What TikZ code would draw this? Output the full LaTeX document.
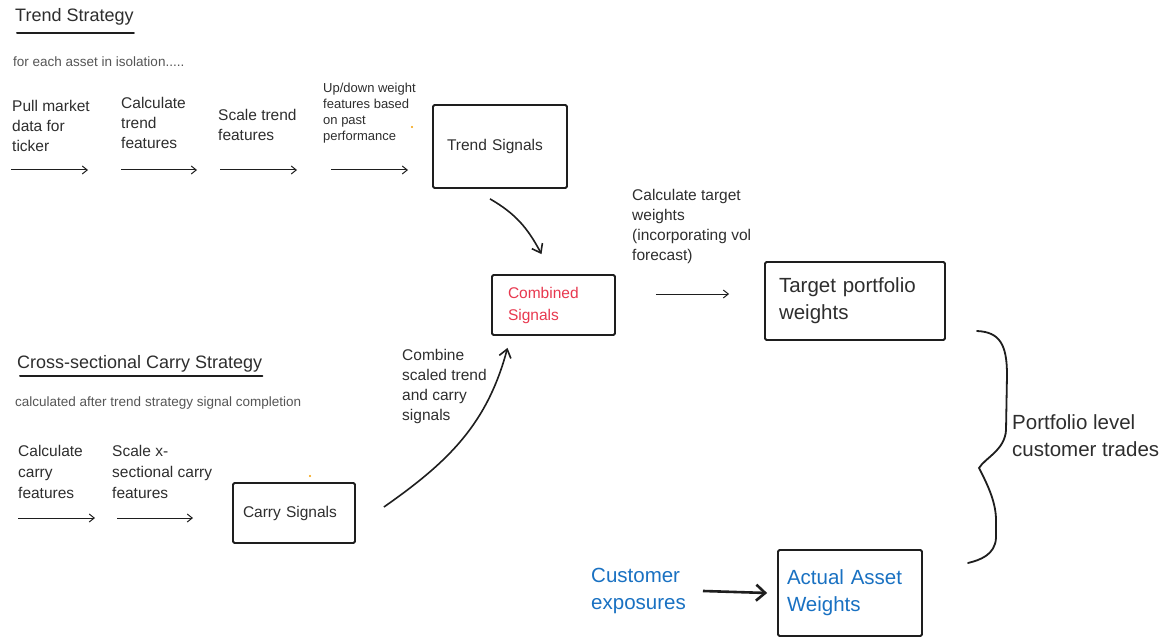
\documentclass[tikz,border=0pt]{standalone}
\usepackage{fontspec}
\setmainfont{Liberation Sans}
\usepackage{tikz}
\usepackage{xcolor}
\usetikzlibrary{arrows.meta,positioning}
\definecolor{ink}{HTML}{1E1E1E}
\definecolor{inktext}{HTML}{2E2E2E}
\definecolor{inkgray}{HTML}{555555}
\definecolor{accentred}{HTML}{E8384F}
\definecolor{accentblue}{HTML}{1971C2}
\definecolor{dotorange}{HTML}{F59F00}
\newcommand{\handmid}{\fontsize{15.5}{20}\selectfont}
\newcommand{\handsml}{\fontsize{13}{16}\selectfont}
\newcommand{\handnote}{\fontsize{13.5}{16}\selectfont}
\newcommand{\handhead}{\fontsize{18}{22}\selectfont}
\newcommand{\handbig}{\fontsize{20.5}{27}\selectfont}
\tikzset{
  hand/.style={font=\handmid,text=inktext,align=left,inner sep=0pt,
               anchor=north west},
  handsm/.style={hand,font=\handsml},
  note/.style={hand,font=\handnote,text=inkgray},
  heading/.style={hand,font=\handhead},
  sigbox/.style={draw=ink,line width=1.8pt,rounded corners=1.5pt,
                 align=left,inner ysep=4pt,text=inktext,font=\handmid},
  flowarr/.style={-{Straight Barb[length=5pt,width=8pt]},line width=1pt,
                  draw=ink},
  bendarr/.style={-{Straight Barb[length=8pt,width=12pt]},line width=1.6pt,
                  draw=ink},
  pusharr/.style={-{Straight Barb[length=9pt,width=16pt]},line width=2.6pt,
                  draw=ink},
  headline/.style={line width=2pt,draw=ink,line cap=round}
}
\begin{document}
\begin{tikzpicture}[x=1pt,y=-1pt]
    \path[use as bounding box,fill=white] (0,0) rectangle (1164,639);

    \node[heading] (trendhead) at (15,8) {Trend Strategy};
    \draw[headline] ([shift={(2pt,-8pt)}]trendhead.south west)
      -- ([shift={(0pt,-8pt)}]trendhead.south east);
    \node[note] (trendsub) at (13,57) {for each asset in isolation.....};

    \node[hand] (pull) at (12,100) {Pull market\\data for\\ticker};
    \node[hand] (calctrend) at (121,97) {Calculate\\trend\\features};
    \node[hand] (scaletrend) at (218,109) {Scale trend\\features};
    \node[handsm] (updown) at (323,83)
      {Up/down weight\\features based\\on past\\performance};
    \foreach \xa/\xb [count=\i] in {11/88,121/197,220/297,331/408}{
      \coordinate (ta\i) at (\xa,170);
      \coordinate (tb\i) at (\xb,170);
      \draw[flowarr] (ta\i) -- (tb\i);
    }
    \fill[dotorange] (412,127) circle (1.2pt);

    \node[sigbox,text width=106pt,inner xsep=14pt,minimum height=83pt]
      (trendsig) at (500,146.5) {Trend Signals};
    \node[sigbox,text width=91pt,inner xsep=16pt,minimum height=60pt,
          text=accentred,font=\fontsize{15.5}{22}\selectfont]
      (combined) at (553.5,305) {Combined\\Signals};
    \draw[bendarr] ([shift={(-10pt,-10pt)}]trendsig.south)
      to[out=-30,in=118] ([shift={(-12pt,20pt)}]combined.north);

    \node[hand] (calctarget) at (632,189)
      {Calculate target\\weights\\(incorporating vol\\forecast)};
    \node[sigbox,text width=152pt,inner xsep=14pt,minimum height=78pt,
          font=\handbig] (target) at (855,301) {Target portfolio\\weights};
    \draw[flowarr] ([shift={(40pt,11pt)}]combined.east)
      -- ([shift={(-35pt,7pt)}]target.west);

    \node[heading] (carryhead) at (17,355) {Cross-sectional Carry Strategy};
    \draw[headline] ([shift={(3pt,-4pt)}]carryhead.south west)
      -- ([shift={(0pt,-4pt)}]carryhead.south east);
    \node[note] (carrysub) at (15,397)
      {calculated after trend strategy signal completion};

    \node[hand,font=\fontsize{15.5}{21}\selectfont] (calccarry) at (18,445)
      {Calculate\\carry\\features};
    \node[hand,font=\fontsize{15.5}{21}\selectfont] (scalecarry) at (112,445)
      {Scale x-\\sectional carry\\features};
    \foreach \xa/\xb [count=\i] in {18/95,117/193}{
      \coordinate (ca\i) at (\xa,518);
      \coordinate (cb\i) at (\xb,518);
      \draw[flowarr] (ca\i) -- (cb\i);
    }
    \fill[dotorange] (310,476) circle (1.2pt);

    \node[sigbox,text width=102pt,inner xsep=10pt,minimum height=60pt]
      (carrysig) at (294,513) {Carry Signals};
    \node[hand] (combinetxt) at (402,349)
      {Combine\\scaled trend\\and carry\\signals};
    \draw[bendarr] ([shift={(28pt,6pt)}]carrysig.east)
      to[out=35,in=255] ([shift={(-46pt,-12pt)}]combined.south);

    \node[hand,font=\handbig,text=accentblue] (custexp) at (591,568)
      {Customer\\exposures};
    \node[sigbox,text width=126pt,inner xsep=9pt,minimum height=86pt,
          font=\handbig,text=accentblue] (actual) at (850,593)
      {Actual Asset\\Weights};
    \draw[pusharr] ([xshift=17pt]custexp.east) -- ([xshift=-10pt]actual.west);

    \coordinate (bracetop) at (977,331);
    \coordinate (bracetip) at (979,468);
    \coordinate (bracebot) at (968,563);
    \draw[line width=1.8pt,draw=ink,line cap=round] (bracetop)
      .. controls (1000,332) and (1007,345) .. (1007,375)
      -- (1006,430)
      .. controls (1005,450) and (985,458) .. (bracetip)
      .. controls (985,480) and (996,500) .. (996,520)
      -- (996,538)
      .. controls (995,555) and (980,560) .. (bracebot);
    \node[hand,font=\handbig] (trades) at (1012,414)
      {Portfolio level\\customer trades};
  \end{tikzpicture}
\end{document}
